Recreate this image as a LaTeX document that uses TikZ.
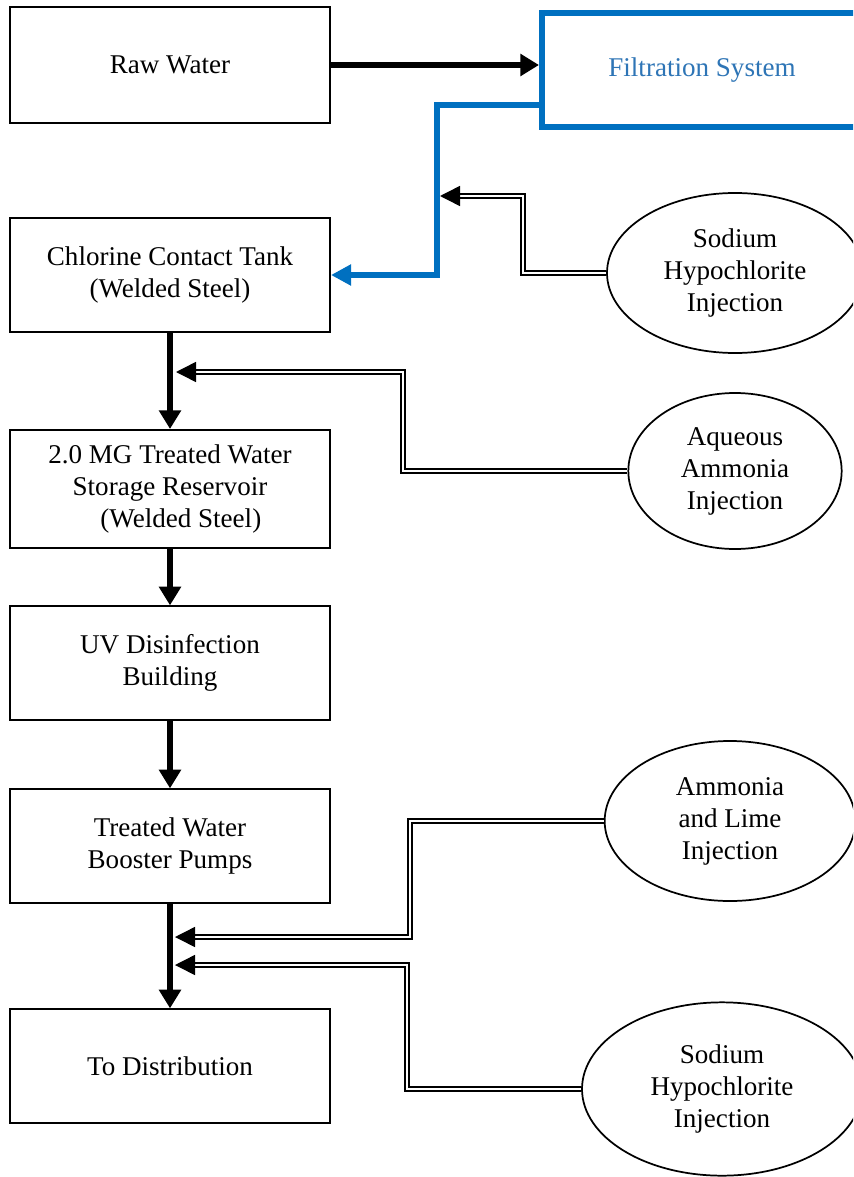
\documentclass[tikz,border=0pt]{standalone}
\usepackage{fontspec}
\setmainfont{Liberation Serif}
\usetikzlibrary{shapes.geometric, arrows.meta, calc}
\definecolor{filtblue}{HTML}{0070C0}
\definecolor{filttext}{HTML}{2E75B6}

\begin{document}
\begin{tikzpicture}[
  x=0.75pt, y=-0.75pt,
  box/.style={rectangle, draw=#1, line width=1.5pt, minimum width=240pt,
              minimum height=85pt, align=center, inner sep=2pt,
              font=\fontsize{20.3}{24}\selectfont},
  box/.default=black,
  inject/.style={ellipse, draw, line width=1.3pt, align=center, inner sep=0pt,
                 font=\fontsize{20.3}{24}\selectfont},
  flow/.style={-{Triangle[length=14pt, width=16pt]}, line width=4.4pt},
  blueflow/.style={-{Triangle[length=15pt, width=15pt]}, draw=filtblue, line width=4.5pt},
  dose/.style={-{Triangle[length=15pt, width=15pt]}, double, line width=1.1pt,
               double distance=1.6pt}
]
\clip (0,0) rectangle (853,1177);
\fill[white] (0,0) rectangle (853,1177);

% main treatment line
\node[box, minimum height=87pt] (raw)   at (170,65)   {Raw Water};
\node[box=filtblue, line width=4.5pt, text=filttext] (filt) at (702,70) {Filtration System};
\node[box]                      (chlor) at (170,275)  {Chlorine Contact Tank\\(Welded Steel)};
\node[box, minimum height=88.5pt] (stor) at (170,489) {2.0 MG Treated Water\\Storage Reservoir\\\hspace{0.8em}(Welded Steel)};
\node[box]                      (uv)    at (170,663)  {UV Disinfection\\Building};
\node[box]                      (boost) at (170,846)  {Treated Water\\Booster Pumps};
\node[box]                      (dist)  at (170,1066) {To Distribution};

% chemical feeds
\node[inject, minimum width=192pt, minimum height=120pt] (naocl1) at (735,273)  {Sodium\\Hypochlorite\\Injection};
\node[inject, minimum width=160pt, minimum height=117pt] (amm)    at (735,471)  {Aqueous\\Ammonia\\Injection};
\node[inject, minimum width=188pt, minimum height=120pt] (lime)   at (730,821)  {Ammonia\\and Lime\\Injection};
\node[inject, minimum width=210pt, minimum height=130pt] (naocl2) at (722,1089) {Sodium\\Hypochlorite\\Injection};

% feed points
\coordinate (tee) at (437,275);
\coordinate (j1)  at (440,196);
\coordinate (j2)  at (176,372);
\coordinate (j3)  at (175,937);
\coordinate (j4)  at (175,965);

\draw[flow] (raw.east) -- (raw.east -| filt.west);
\draw[blueflow] (filt.west |- 0,105) -| (tee) -- (chlor.east);
\draw[flow] (chlor) -- (stor);
\draw[flow] (stor)  -- (uv);
\draw[flow] (uv)    -- (boost);
\draw[flow] (boost) -- (dist);

\draw[dose] (naocl1.west) -| ($(j1)+(83,0)$) -- (j1);
\draw[dose] (amm.west)    -| ($(j2)+(227,0)$) -- (j2);
\draw[dose] (lime.west)   -| ($(j3)+(235,0)$) -- (j3);
\draw[dose] (naocl2.west) -| ($(j4)+(232,0)$) -- (j4);

\end{tikzpicture}
\end{document}
